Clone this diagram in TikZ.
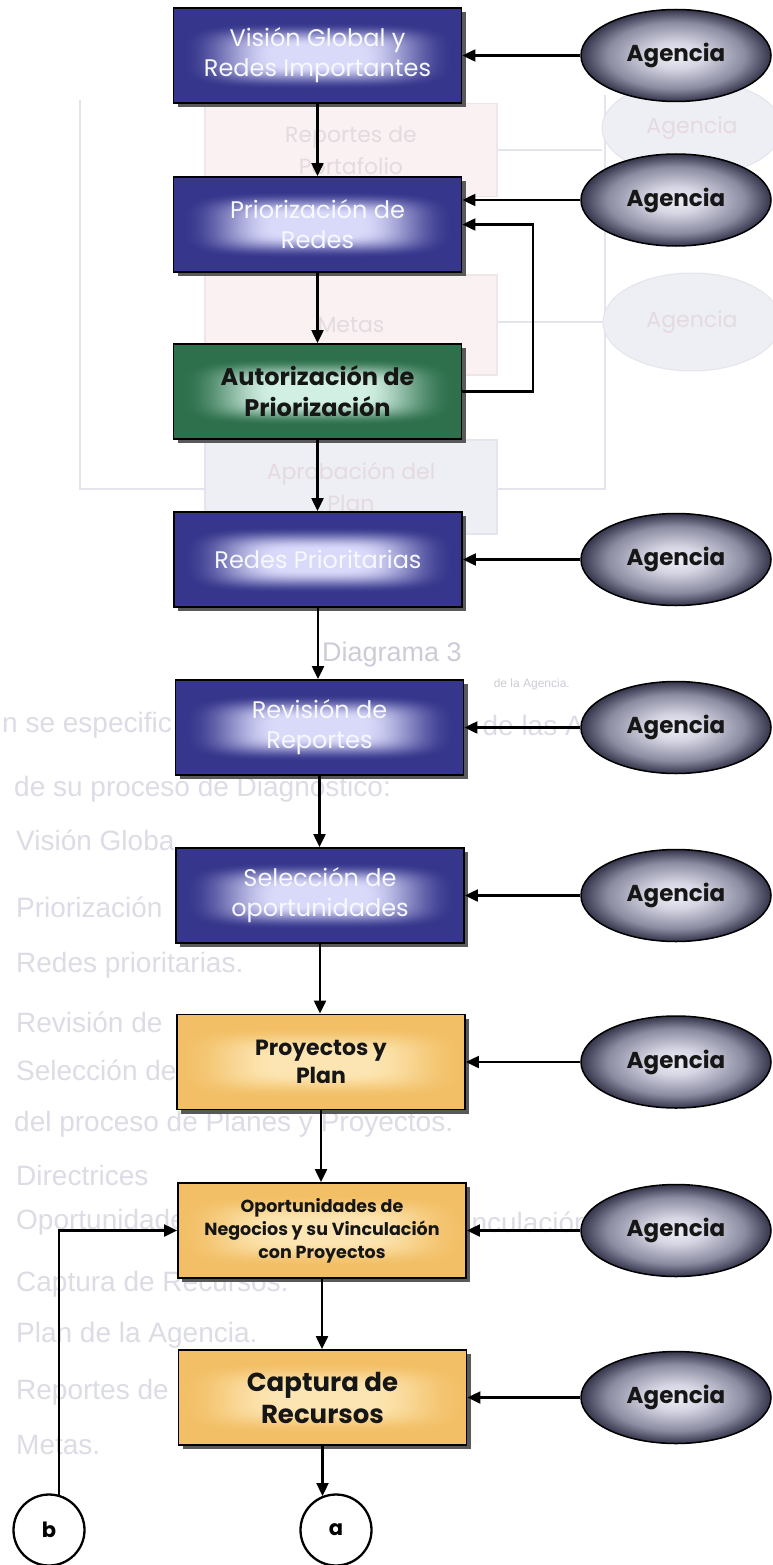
\documentclass[tikz,border=0pt]{standalone}
\usepackage{fontspec}
\setmainfont{Poppins}
\newfontfamily\listfont{Liberation Sans}
\usetikzlibrary{arrows.meta,shapes.geometric,shadows}

% ---------- colours ----------
\definecolor{ghosttext}{RGB}{220,220,230}
\definecolor{ghostdark}{RGB}{204,204,216}
\definecolor{ghostpink}{RGB}{249,241,242}
\definecolor{ghostpinkline}{RGB}{240,230,232}
\definecolor{ghostpinktext}{RGB}{228,218,224}
\definecolor{ghostblue}{RGB}{238,239,245}
\definecolor{ghostline}{RGB}{228,228,236}
\definecolor{bluetext}{RGB}{248,248,255}
\definecolor{inktext}{RGB}{22,22,22}
\definecolor{agc0}{RGB}{238,238,246}
\definecolor{agc1}{RGB}{214,214,228}
\definecolor{agc2}{RGB}{140,140,162}
\definecolor{agc3}{RGB}{52,52,74}

% ---------- box glows: bright centre fading to a dark rim ----------
\pgfdeclarefunctionalshading{bluebox}{\pgfpoint{-50bp}{-50bp}}{\pgfpoint{50bp}{50bp}}{}{
  abs 25 div 1.35 mul dup mul dup mul
  exch abs 25 div dup mul dup mul
  add sqrt sqrt
  0.3 sub 0.65 div
  dup 0 lt {pop 0} if dup 1 gt {pop 1} if
  dup dup mul exch 2 mul 3 exch sub mul
  dup -0.64 mul 0.85 add exch dup -0.64 mul 0.85 add exch -0.43 mul 0.98 add
}
\pgfdeclarefunctionalshading{greenbox}{\pgfpoint{-50bp}{-50bp}}{\pgfpoint{50bp}{50bp}}{}{
  abs 25 div 1.35 mul dup mul dup mul
  exch abs 25 div dup mul dup mul
  add sqrt sqrt
  0.3 sub 0.65 div
  dup 0 lt {pop 0} if dup 1 gt {pop 1} if
  dup dup mul exch 2 mul 3 exch sub mul
  dup -0.64 mul 0.82 add exch dup -0.50 mul 0.94 add exch -0.59 mul 0.89 add
}
\pgfdeclarefunctionalshading{yellowbox}{\pgfpoint{-50bp}{-50bp}}{\pgfpoint{50bp}{50bp}}{}{
  abs 25 div 1.35 mul dup mul dup mul
  exch abs 25 div dup mul dup mul
  add sqrt sqrt
  0.3 sub 0.7 div
  dup 0 lt {pop 0} if dup 1 gt {pop 1} if
  dup dup mul exch 2 mul 3 exch sub mul
  dup -0.04 mul 0.99 add exch dup -0.15 mul 0.90 add exch -0.30 mul 0.70 add
}
\pgfdeclareradialshading{agencyshade}{\pgfpoint{0bp}{0bp}}{%
  color(0bp)=(agc0); color(7bp)=(agc1); color(18bp)=(agc2);
  color(25bp)=(agc3); color(50bp)=(agc3)}

\tikzset{
  box/.style={rectangle, draw=black, line width=1.8pt,
    minimum width=288pt, minimum height=95pt, inner sep=0pt, align=center,
    drop shadow={shadow xshift=4pt, shadow yshift=-4pt, fill=black!65, opacity=1}},
  bluebx/.style={box, shade, shading=bluebox, text=bluetext,
    font=\fontsize{24}{30}\selectfont},
  greenbx/.style={box, shade, shading=greenbox, text=inktext,
    font=\bfseries\fontsize{24}{31}\selectfont},
  yellowbx/.style={box, shade, shading=yellowbox, text=inktext},
  agency/.style={ellipse, draw=black, line width=1.5pt,
    minimum width=190pt, minimum height=92pt, inner sep=0pt,
    shade, shading=agencyshade, text=inktext,
    font=\bfseries\fontsize{23}{28}\selectfont},
  link/.style={draw=black, line width=2.1pt, -{Triangle[length=13pt,width=12pt]}},
  connector/.style={circle, draw=black, line width=2.3pt, minimum size=71pt,
    inner sep=0pt, fill=white, font=\bfseries\fontsize{21}{24}\selectfont},
  ghostbox/.style={rectangle, draw=ghostpinkline, line width=1.2pt, fill=ghostpink,
    minimum width=292pt, inner sep=0pt, align=center, text=ghostpinktext,
    font=\fontsize{22}{32}\selectfont},
  ghostellipse/.style={ellipse, draw=ghostline, line width=1pt, fill=ghostblue,
    inner sep=0pt, text=ghostpinktext, font=\fontsize{22}{26}\selectfont},
  listline/.style={anchor=west, inner sep=0pt, text=ghosttext,
    font=\listfont\fontsize{28}{32}\selectfont},
}

\begin{document}
\begin{tikzpicture}[x=1pt,y=-1pt]
\useasboundingbox (0,0) rectangle (773,1565);
\fill[white] (0,0) rectangle (773,1565);

% ---------- faint print showing through the page ----------
\draw[ghostline, line width=1.2pt] (80,100) -- (80,489) -- (605,489) -- (605,95);
\node[ghostbox, minimum height=93pt] (gr) at (351,150) {Reportes de\\Portafolio};
\node[ghostbox, minimum height=100pt] (gm) at (351,325) {Metas};
\node[ghostbox, minimum height=94pt, fill=ghostblue, draw=ghostline] (ga)
  at (351,487) {Aprobación del\\Plan};
\node[ghostellipse, minimum width=180pt, minimum height=96pt] (ge1) at (692,128)
  {Agencia};
\node[ghostellipse, minimum width=178pt, minimum height=98pt] (ge2) at (692,322)
  {Agencia};
\draw[ghostline, line width=1.2pt] (gr.east |- 0,150) -- (ge1.west |- 0,150);
\draw[ghostline, line width=1.2pt] (gm.east |- 0,322) -- (ge2.west |- 0,322);

\node[inner sep=0pt, text=ghostdark, font=\listfont\fontsize{27}{30}\selectfont]
  (gdiag) at (392,655) {Diagrama 3};
\node[anchor=east, inner sep=0pt, text=ghostdark, font=\listfont\fontsize{12}{14}\selectfont]
  (gsrc) at (570,684) {de la Agencia.};

\node[listline] (l1) at (2,725) {n se especific};
\node[listline, anchor=east] (l1b) at (598,725) {de las Ac};
\node[listline] (l2) at (14,789) {de su proceso de Diagnóstico:};
\node[listline] (l3) at (16,840) {Visión Globa};
\node[listline] (l4) at (16,907) {Priorización};
\node[listline] (l5) at (16,965) {Redes prioritarias.};
\node[listline] (l6) at (16,1022) {Revisión de};
\node[listline] (l7) at (16,1070) {Selección de};
\node[listline] (l8) at (14,1124) {del proceso de Planes y Proyectos.};
\node[listline] (l9) at (16,1175) {Directrices};
\node[listline] (l10) at (16,1222) {Oportunidades};
\node[listline, anchor=east] (l10b) at (590,1222) {Vinculación};
\node[listline] (l11) at (16,1284) {Captura de Recursos.};
\node[listline] (l12) at (16,1335) {Plan de la Agencia.};
\node[listline] (l13) at (16,1392) {Reportes de};
\node[listline] (l14) at (16,1445) {Metas.};

% ---------- process boxes ----------
\node[bluebx] (b1) at (317.5,55.5) {Visión Global y\\Redes Importantes};
\node[bluebx] (b2) at (317.5,224.5) {Priorización de\\Redes};
\node[greenbx] (b3) at (317.5,391.5) {Autorización de\\Priorización};
\node[bluebx] (b4) at (318,559.5) {Redes Prioritarias};
\node[bluebx] (b5) at (319.5,727.5) {Revisión de\\Reportes};
\node[bluebx] (b6) at (320,895.5) {Selección de\\oportunidades};
\node[yellowbx, font=\bfseries\fontsize{22}{28}\selectfont] (b7) at (321,1062)
  {Proyectos y\\Plan};
\node[yellowbx, font=\bfseries\fontsize{17.5}{23}\selectfont] (b8) at (322,1230.5)
  {Oportunidades de\\Negocios y su Vinculación\\con Proyectos};
\node[yellowbx, font=\bfseries\fontsize{26}{32}\selectfont] (b9) at (322.5,1397.5)
  {Captura de\\Recursos};

% ---------- Agencia inputs ----------
\node[agency] (e1) at (676,55.5) {\raisebox{6pt}{Agencia}};
\node[agency] (e2) at (676,200) {\raisebox{6pt}{Agencia}};
\node[agency] (e4) at (676,559.5) {\raisebox{6pt}{Agencia}};
\node[agency] (e5) at (676,727.5) {\raisebox{6pt}{Agencia}};
\node[agency] (e6) at (676,895.5) {\raisebox{6pt}{Agencia}};
\node[agency] (e7) at (676,1062) {\raisebox{6pt}{Agencia}};
\node[agency] (e8) at (676,1230.5) {\raisebox{6pt}{Agencia}};
\node[agency] (e9) at (676,1397.5) {\raisebox{6pt}{Agencia}};

% ---------- off-page connectors ----------
\node[connector] (cb) at (49,1530) {b};
\node[connector] (ca) at (336,1530) {a};

% ---------- flow ----------
\foreach \u/\v in {b1/b2, b2/b3, b3/b4, b4/b5, b5/b6, b6/b7, b7/b8, b8/b9}
  \draw[link] (\u.south) -- (\u.south |- \v.north);

\foreach \e/\b in {e1/b1, e2/b2, e4/b4, e5/b5, e6/b6, e7/b7, e8/b8, e9/b9}
  \draw[link] (\e.west) -- (\e.west -| \b.east);

% authorisation feeds back into the prioritisation step
\coordinate (loop) at (533,0);
\draw[link] (b3.east) -- (b3.east -| loop) |- (b2.east);

% connector b re-enters the opportunities step; the flow leaves through a
\draw[link] (cb.74) |- (b8.west);
\draw[link] (b9.south) -- (b9.south |- ca.112);
\end{tikzpicture}
\end{document}
